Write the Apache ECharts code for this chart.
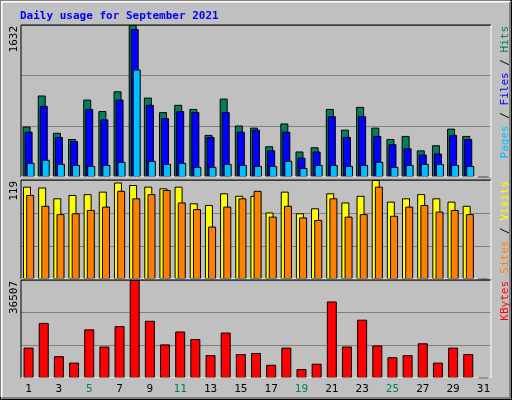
<!DOCTYPE html>
<html>
<head>
<meta charset="utf-8">
<script src="https://cdn.jsdelivr.net/npm/echarts@6/dist/echarts.min.js"></script>
<style>html,body{margin:0;padding:0;background:#c0c0c0}#main{width:512px;height:400px}</style>
</head>
<body>
<div id="main"></div>
<script>
let days = [];
for (let d = 1; d <= 31; d++) days.push(String(d));
let weekends = [4, 5, 11, 12, 18, 19, 25, 26];

let hits = [542, 875, 475, 408, 831, 708, 920, 1632, 853, 697, 775, 731, 452, 842, 553, 530, 330, 575, 274, 319, 731, 508, 753, 530, 408, 441, 286, 341, 519, 441, 0];
let files = [486, 764, 430, 386, 731, 619, 831, 1588, 775, 631, 708, 697, 430, 697, 486, 508, 286, 486, 208, 274, 653, 430, 653, 441, 352, 308, 241, 252, 452, 408, 0];
let pages = [152, 185, 141, 130, 119, 130, 163, 1154, 174, 141, 152, 108, 108, 141, 130, 119, 119, 174, 96, 130, 130, 119, 130, 163, 108, 130, 141, 141, 130, 119, 0];
let sites = [111, 110, 97, 101, 102, 105, 116, 113, 111, 109, 111, 91, 89, 103, 100, 100, 80, 105, 79, 85, 103, 92, 100, 119, 93, 97, 102, 97, 93, 88, 0];
let visits = [101, 88, 78, 79, 83, 87, 106, 97, 102, 107, 92, 84, 63, 87, 97, 106, 75, 88, 74, 71, 97, 75, 78, 111, 76, 87, 89, 81, 83, 78, 0];
let kbytes = [11325, 20518, 8127, 5729, 18120, 11725, 19319, 36507, 21318, 12524, 17321, 14523, 8527, 16921, 8927, 9326, 4930, 11325, 3331, 5329, 28512, 11725, 21717, 12124, 7728, 8527, 12924, 5729, 11325, 8927, 0];

let maxTop = 1632, maxMid = 119, maxBot = 36507;
let font = 'DejaVu Sans Mono';
let chart = echarts.init(document.getElementById('main'));

let grids = [
  {left: 21, width: 470, top: 25, height: 152},
  {left: 21, width: 470, top: 180, height: 99},
  {left: 21, width: 470, top: 280, height: 98}
];
let maxes = [maxTop, maxMid, maxBot];

function xAx(i) {
  return {
    type: 'category', gridIndex: i, data: days,
    axisLine: {show: false}, axisTick: {show: false},
    axisLabel: i == 2 ? {
      show: true, margin: 6, fontFamily: font, fontSize: 11,
      color: function (v) { return weekends.indexOf(+v) >= 0 ? '#00805c' : '#000'; }
    } : {show: false}
  };
}
function yAx(i) {
  return {
    type: 'value', gridIndex: i, min: 0, max: maxes[i], interval: maxes[i] / 3,
    axisLabel: {show: false}, axisLine: {show: false}, axisTick: {show: false},
    splitLine: {lineStyle: {color: '#808080', width: 1}}
  };
}
function bar(name, data, color, i, w, gap) {
  return {
    name: name, type: 'bar', data: data, xAxisIndex: i, yAxisIndex: i,
    barWidth: w, barGap: gap, animation: false,
    itemStyle: {color: color, borderColor: '#000', borderWidth: 1}
  };
}

// grid frames: black top/left, white bottom/right
let frames = [];
grids.forEach(function (g) {
  let x1 = g.left, y1 = g.top, x2 = g.left + g.width, y2 = g.top + g.height;
  frames.push({type: 'polyline', shape: {points: [[x1, y2], [x1, y1], [x2, y1]]}, style: {stroke: '#000', lineWidth: 1, fill: null}, z: 10});
  frames.push({type: 'polyline', shape: {points: [[x2, y1], [x2, y2], [x1, y2]]}, style: {stroke: '#fff', lineWidth: 1, fill: null}, z: 10});
});

function sideLabel(y, parts) {
  return {
    type: 'text', x: 505, y: y, rotation: Math.PI / 2,
    style: {text: parts.map(function (p) { return '{' + p[0] + '|' + p[1] + '}'; }).join(''),
      font: '11px ' + font, align: 'right', verticalAlign: 'middle',
      rich: {
        h: {fill: '#00805c', font: '11px ' + font}, f: {fill: '#0000ff', font: '11px ' + font},
        p: {fill: '#00c0ff', font: '11px ' + font}, s: {fill: '#000', font: '11px ' + font},
        si: {fill: '#ff8000', font: '11px ' + font}, v: {fill: '#ffff00', font: '11px ' + font},
        k: {fill: '#ff0000', font: '11px ' + font}
      }}
  };
}
function maxLabel(y, t) {
  return {type: 'text', x: 14, y: y, rotation: Math.PI / 2,
    style: {text: t, font: '11px ' + font, fill: '#000', align: 'right', verticalAlign: 'middle'}};
}

let graphics = [
  {type: 'rect', shape: {x: 0.5, y: 0.5, width: 511, height: 399}, style: {fill: null, stroke: '#000', lineWidth: 1}},
  {type: 'polyline', shape: {points: [[1.5, 397], [1.5, 1.5], [510, 1.5]]}, style: {stroke: '#fff', lineWidth: 2, fill: null}},
  {type: 'polyline', shape: {points: [[510, 2], [510, 398], [2, 398]]}, style: {stroke: '#808080', lineWidth: 2, fill: null}},
  {type: 'text', x: 20, y: 16, style: {text: 'Daily usage for September 2021', font: 'bold 11px ' + font, fill: '#0000ff', verticalAlign: 'middle'}},
  maxLabel(26, '1632'), maxLabel(181, '119'), maxLabel(281, '36507'),
  sideLabel(26, [['p', 'Pages'], ['s', ' / '], ['f', 'Files'], ['s', ' / '], ['h', 'Hits']]),
  sideLabel(181, [['si', 'Sites'], ['s', ' / '], ['v', 'Visits']]),
  sideLabel(281, [['k', 'KBytes']])
].concat(frames);

let option = {
  backgroundColor: '#c0c0c0',
  animation: false,
  grid: grids,
  xAxis: [xAx(0), xAx(1), xAx(2)],
  yAxis: [yAx(0), yAx(1), yAx(2)],
  series: [
    bar('Hits', hits, '#00805c', 0, 8, '-75%'),
    bar('Files', files, '#0000ff', 0, 8, '-75%'),
    bar('Pages', pages, '#00c0ff', 0, 8, '-75%'),
    bar('Sites', sites, '#ffff00', 1, 8, '-60%'),
    bar('Visits', visits, '#ff8000', 1, 8, '-60%'),
    bar('KBytes', kbytes, '#ff0000', 2, 10, '0%')
  ],
  graphic: graphics
};
chart.setOption(option);
</script>
</body>
</html>
